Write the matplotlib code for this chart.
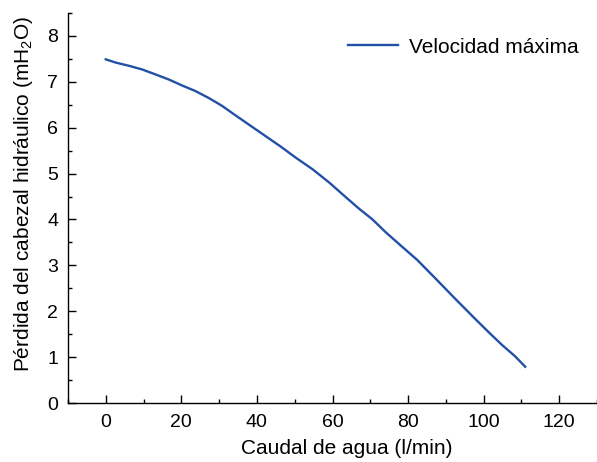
import matplotlib
matplotlib.use("Agg")
import matplotlib.pyplot as plt
from matplotlib.ticker import MultipleLocator

# Caudal (l/min) vs perdida de cabezal (mH2O)
caudal = [0.0, 2.6, 6.1, 9.6, 13.2, 16.7, 20.2, 23.7, 27.2, 30.7, 33.8,
          37.3, 41.7, 46.1, 50.4, 54.8, 59.2, 63.6, 67.1, 70.6, 74.1,
          78.5, 82.4, 87.3, 92.5, 97.8, 101.5, 104.8, 108.3, 111.0]
perdida = [7.49, 7.42, 7.35, 7.27, 7.16, 7.05, 6.92, 6.80, 6.65, 6.48, 6.30,
           6.10, 5.85, 5.60, 5.34, 5.09, 4.80, 4.48, 4.23, 4.00, 3.72,
           3.40, 3.12, 2.71, 2.27, 1.83, 1.53, 1.27, 1.02, 0.79]

plt.rcParams["font.family"] = ["Liberation Sans", "DejaVu Sans"]
plt.rcParams["mathtext.fontset"] = "custom"
plt.rcParams["mathtext.rm"] = "Liberation Sans"
plt.rcParams["mathtext.it"] = "Liberation Sans:italic"

fig = plt.figure(figsize=(5.97, 4.62), dpi=100)
ax = fig.add_axes([68 / 597, 59 / 462, 529 / 597, 390 / 462])

ax.plot(caudal, perdida, color="#2150a6", linewidth=1.7, label="Velocidad máxima")

ax.set_xlim(-10, 130)
ax.set_ylim(0, 8.5)
ax.xaxis.set_major_locator(MultipleLocator(20))
ax.xaxis.set_minor_locator(MultipleLocator(10))
ax.yaxis.set_major_locator(MultipleLocator(1))
ax.yaxis.set_minor_locator(MultipleLocator(0.5))

for side in ("top", "right"):
    ax.spines[side].set_visible(False)
for side in ("left", "bottom"):
    ax.spines[side].set_linewidth(1.0)

ax.tick_params(which="major", direction="in", length=6, width=1, labelsize=14)
ax.tick_params(axis="x", which="major", pad=8)
ax.tick_params(axis="y", which="major", pad=7)
ax.tick_params(which="minor", direction="in", length=3, width=1)

ax.set_xlabel("Caudal de agua (l/min)", fontsize=15)
ax.set_ylabel(r"Pérdida del cabezal hidráulico (mH$_2$O)", fontsize=15)
ax.xaxis.set_label_coords(0.526, -0.092)
ax.yaxis.set_label_coords(-0.062, 0.537)

ax.legend(loc="upper right", frameon=False, fontsize=15, handlelength=2.4,
          handletextpad=0.5, bbox_to_anchor=(1.0, 0.985))

plt.savefig("out.png", dpi=100)
plt.close()
